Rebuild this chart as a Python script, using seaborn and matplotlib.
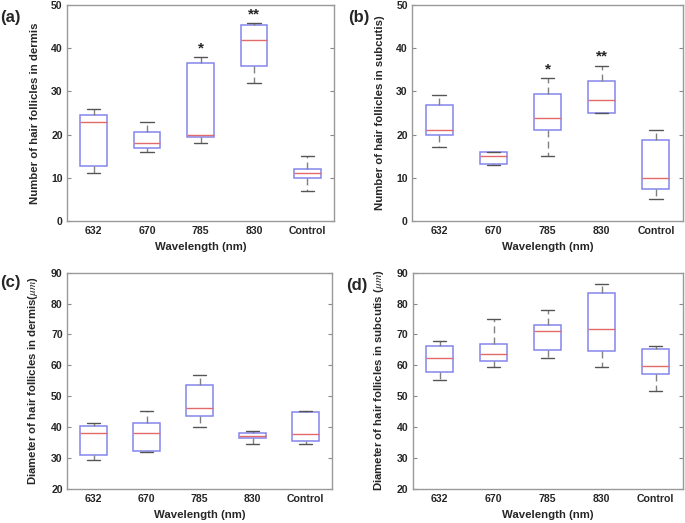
import pandas as pd
import seaborn as sns
import matplotlib.pyplot as plt

# groups on the x axis
groups = ['632', '670', '785', '830', 'Control']

# each group: [lower whisker, Q1, median, Q3, upper whisker]
count_dermis = [
    [11.0, 12.6, 23.0, 24.6, 26.0],
    [16.0, 16.8, 18.1, 20.6, 23.0],
    [18.1, 19.5, 20.0, 36.5, 38.0],
    [32.0, 35.8, 42.0, 45.3, 45.9],
    [7.0, 10.0, 11.0, 12.0, 15.1],
]
count_subcutis = [
    [17.1, 20.0, 21.0, 26.9, 29.1],
    [13.0, 13.05, 15.0, 16.0, 16.05],
    [15.1, 21.0, 23.9, 29.3, 33.1],
    [25.0, 25.05, 28.1, 32.4, 36.0],
    [5.0, 7.3, 10.0, 18.8, 21.0],
]
diam_dermis = [
    [29.4, 30.9, 37.9, 40.3, 41.3],
    [31.8, 32.2, 37.9, 41.4, 45.1],
    [40.1, 43.6, 46.2, 53.6, 56.9],
    [34.5, 36.3, 37.1, 38.1, 38.6],
    [34.4, 35.5, 37.6, 45.0, 45.2],
]
diam_subcutis = [
    [55.2, 57.9, 62.4, 66.4, 67.9],
    [59.5, 61.4, 63.6, 66.8, 74.9],
    [62.5, 64.9, 71.0, 73.0, 77.9],
    [59.5, 64.5, 71.6, 83.4, 86.2],
    [51.8, 57.2, 59.8, 65.2, 66.3],
]

# significance marks (group, label)
stars_a = [('785', '*'), ('830', '**')]
stars_b = [('785', '*'), ('830', '**')]


def to_frame(values):
    rows = []
    for g, vals in zip(groups, values):
        for v in vals:
            rows.append({'Wavelength': g, 'value': v})
    return pd.DataFrame(rows)


def draw_panel(ax, values, ylabel, ylim, yticks, stars=None):
    df = to_frame(values)
    sns.boxplot(
        data=df, x='Wavelength', y='value', order=groups, ax=ax,
        width=0.5, whis=(0, 100), color='white', linecolor='#7070e8',
        linewidth=1.0, showfliers=False,
        boxprops=dict(facecolor='white', edgecolor='#8585ee', linewidth=1.1),
        medianprops=dict(color='#e36a6a', linewidth=1.0),
        whiskerprops=dict(color='#808080', linestyle=(0, (5, 3)), linewidth=1.0),
        capprops=dict(color='#555555', linewidth=1.0),
    )
    if stars:
        for g, s in stars:
            i = groups.index(g)
            top = values[i][4]
            ax.text(i, top + (ylim[1] - ylim[0]) * 0.04, s, ha='center', va='center',
                    fontsize=11, fontweight='bold')
    ax.set_xlim(-0.5, 4.5)
    ax.set_ylim(*ylim)
    ax.set_yticks(yticks)
    ax.set_xlabel('Wavelength (nm)', fontsize=8.2, fontweight='bold', labelpad=4)
    ax.set_ylabel(ylabel, fontsize=8.2, fontweight='bold', labelpad=8)
    ax.tick_params(direction='in', length=3, color='#888888', labelsize=7.6,
                   right=True, top=False, pad=3)
    ax.tick_params(axis='x', length=0, pad=4)
    for lab in ax.get_xticklabels() + ax.get_yticklabels():
        lab.set_fontweight('bold')
    for sp in ax.spines.values():
        sp.set_visible(True)
        sp.set_color('#999999')
        sp.set_linewidth(1.0)


sns.set_style('ticks')
plt.rcParams['font.family'] = ['Liberation Sans', 'DejaVu Sans']
plt.rcParams['mathtext.fontset'] = 'stix'

fig = plt.figure(figsize=(6.85, 5.23), dpi=100)
ax_a = fig.add_axes([0.0978, 0.578, 0.390, 0.412])
ax_b = fig.add_axes([0.6015, 0.578, 0.3956, 0.412])
ax_c = fig.add_axes([0.0978, 0.0656, 0.387, 0.413])
ax_d = fig.add_axes([0.6025, 0.0656, 0.394, 0.413])

draw_panel(ax_a, count_dermis, 'Number of hair follicles in dermis',
           (0, 50), range(0, 51, 10), stars_a)
draw_panel(ax_b, count_subcutis, 'Number of hair follicles in subcutis)',
           (0, 50), range(0, 51, 10), stars_b)
draw_panel(ax_c, diam_dermis, r'Diameter of hair follicles in dermis($\mu m$)',
           (20, 90), range(20, 91, 10))
draw_panel(ax_d, diam_subcutis, r'Diameter of hair follicles in subcutis ($\mu m$)',
           (20, 90), range(20, 91, 10))

for lab, x, y in [('(a)', 0.0, 0.967), ('(b)', 0.508, 0.967),
                  ('(c)', 0.0, 0.459), ('(d)', 0.506, 0.455)]:
    fig.text(x, y, lab, fontsize=12, fontweight='bold', va='center')

fig.savefig('out.png', dpi=100)
